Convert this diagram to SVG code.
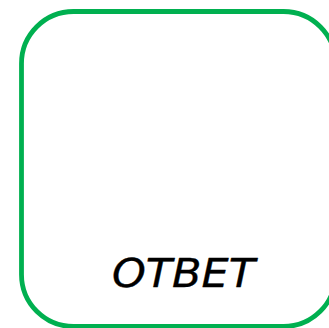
<svg xmlns="http://www.w3.org/2000/svg" width="329" height="328" viewBox="0 0 329 328">
<style>
.box{fill:#FFFFFF;stroke:#00B050;stroke-width:4.8}
.lbl{font-family:"DejaVu Sans","Noto Sans",sans-serif;font-style:italic;font-size:39px;fill:#000000;stroke:#000000;stroke-width:0.35;stroke-linejoin:round}
</style>
<rect x="0" y="0" width="329" height="328" fill="#FFFFFF"/>
<g id="answer">
<rect class="box" x="21.5" y="11.5" width="314" height="315" rx="52" ry="52"/>
<text class="lbl" x="112" y="287" textLength="143" lengthAdjust="spacingAndGlyphs">ОТВЕТ</text>
</g>
<g id="connectors"></g>
</svg>
